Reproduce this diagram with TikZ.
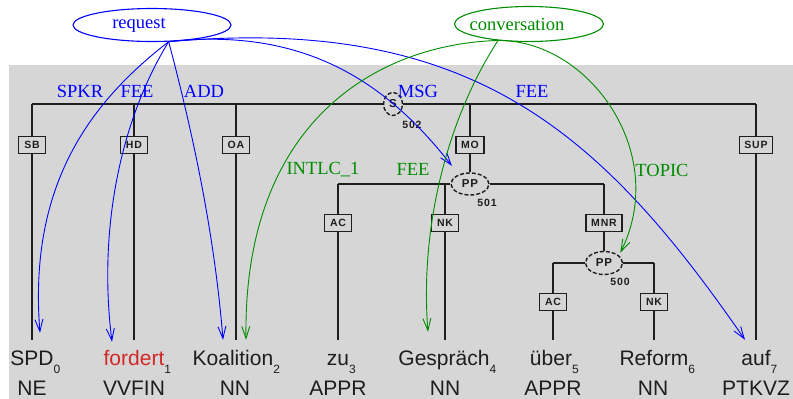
\documentclass[tikz,border=0pt]{standalone}
\usepackage{fontspec}
\setmainfont{Liberation Serif}
\newfontfamily\wordfont{Liberation Sans}
\newfontfamily\edgefont[LetterSpace=8]{Liberation Sans}
\usetikzlibrary{shapes.geometric,arrows.meta}

\definecolor{panel}{RGB}{214,214,214}
\definecolor{feblue}{RGB}{0,0,255}
\definecolor{fegreen}{RGB}{0,140,0}
\definecolor{ink}{RGB}{30,30,30}
\definecolor{target}{RGB}{210,40,40}

% token index, set low and to the right of the word
\newcommand\tokidx[1]{\rlap{\raisebox{-8pt}{\fontsize{12}{12}\selectfont #1}}}

\begin{document}
\begin{tikzpicture}[x=1pt,y=-1pt,
  branch/.style={draw=ink,line width=1.7pt},
  edgebox/.style={draw=ink,fill=panel,line width=1.6pt,inner xsep=5pt,inner ysep=0pt,
    minimum width=27pt,minimum height=17pt,text=ink,font=\edgefont\bfseries\fontsize{10.5}{10.5}\selectfont},
  phrase/.style={ellipse,draw=ink,fill=panel,dashed,dash pattern=on 4pt off 2pt,line width=1.4pt,
    inner sep=0pt,text=ink,font=\edgefont\bfseries\fontsize{11.5}{11.5}\selectfont},
  phrasenum/.style={text=ink,inner sep=0pt,font=\edgefont\bfseries\fontsize{10.5}{10.5}\selectfont},
  word/.style={anchor=base,text=ink,inner xsep=0pt,inner ysep=0pt,text height=25pt,
    font=\wordfont\fontsize{21}{21}\selectfont},
  postag/.style={anchor=base,text=ink,inner sep=0pt,font=\wordfont\fontsize{21}{21}\selectfont},
  frame/.style={ellipse,line width=1.1pt,inner sep=0pt,font=\fontsize{18.5}{18.5}\selectfont},
  role/.style={inner sep=0pt,font=\fontsize{18.5}{18.5}\selectfont},
  fe/.style={-{Straight Barb[length=12pt,width=8pt]},line width=0.9pt},
]
\useasboundingbox (0,0) rectangle (793,399);
\fill[panel] (9,65) rectangle (793,399);

% ---------- syntax tree ----------
\node[word] (w0) at (32,365)  {SPD\tokidx{0}};
\node[word] (w1) at (134,365) {\textcolor{target}{fordert}\tokidx{1}};
\node[word] (w2) at (233,365) {Koalition\tokidx{2}};
\node[word] (w3) at (338,365) {zu\tokidx{3}};
\node[word] (w4) at (444,365) {Gespräch\tokidx{4}};
\node[word] (w5) at (551,365) {über\tokidx{5}};
\node[word] (w6) at (654,365) {Reform\tokidx{6}};
\node[word] (w7) at (756,365) {auf\tokidx{7}};

\node[postag] (p0) at (32,395)  {NE};
\node[postag] (p1) at (134,395) {VVFIN};
\node[postag] (p2) at (235,395) {NN};
\node[postag] (p3) at (338,395) {APPR};
\node[postag] (p4) at (445,395) {NN};
\node[postag] (p5) at (553,395) {APPR};
\node[postag] (p6) at (653,395) {NN};
\node[postag] (p7) at (756,395) {PTKVZ};

\node[phrase,minimum width=19pt,minimum height=23pt] (s) at (393,104) {S};
\node[phrasenum] (n502) at (412,125) {502};
\node[phrase,minimum width=38pt,minimum height=22pt] (pp501) at (470,184) {PP};
\node[phrasenum] (n501) at (487,203) {501};
\node[phrase,minimum width=37pt,minimum height=23pt] (pp500) at (604,263) {PP};
\node[phrasenum] (n500) at (620,282) {500};

\node[edgebox] (sb)  at (32,145)  {SB};
\node[edgebox] (hd)  at (134,145) {HD};
\node[edgebox] (oa)  at (236,145) {OA};
\node[edgebox] (mo)  at (470,145) {MO};
\node[edgebox] (sup) at (756,145) {SUP};
\node[edgebox] (ac1) at (338,223) {AC};
\node[edgebox] (nk1) at (445,223) {NK};
\node[edgebox] (mnr) at (604,223) {MNR};
\node[edgebox] (ac2) at (553,302) {AC};
\node[edgebox] (nk2) at (654,302) {NK};

% S 502
\draw[branch] (sb |- s) -- (s.west);
\draw[branch] (s.east) -- (sup |- s);
\draw[branch] (sb |- s) -- (sb) -- (sb |- w0.north);
\draw[branch] (hd |- s) -- (hd) -- (hd |- w1.north);
\draw[branch] (oa |- s) -- (oa) -- (oa |- w2.north);
\draw[branch] (mo |- s) -- (mo) -- (pp501);
\draw[branch] (sup |- s) -- (sup) -- (sup |- w7.north);
% PP 501
\draw[branch] (ac1 |- pp501) -- (pp501.west);
\draw[branch] (pp501.east) -- (mnr |- pp501);
\draw[branch] (ac1 |- pp501) -- (ac1) -- (ac1 |- w3.north);
\draw[branch] (nk1 |- pp501) -- (nk1) -- (nk1 |- w4.north);
\draw[branch] (mnr |- pp501) -- (mnr) -- (pp500);
% PP 500
\draw[branch] (ac2 |- pp500) -- (pp500.west);
\draw[branch] (pp500.east) -- (nk2 |- pp500);
\draw[branch] (ac2 |- pp500) -- (ac2) -- (ac2 |- w5.north);
\draw[branch] (nk2 |- pp500) -- (nk2) -- (nk2 |- w6.north);

% ---------- frames ----------
\node[frame,draw=feblue,text=feblue,minimum width=158pt,minimum height=33pt] (request) at (152,25)
  {\makebox[0pt]{request\hspace{26pt}}};
\node[frame,draw=fegreen,text=fegreen,minimum width=149pt,minimum height=35pt] (conv) at (529,24)
  {\makebox[0pt]{conversation\hspace{24pt}}};

% request frame elements
\draw[fe,feblue] (request.-45) .. controls (92,101) and (28,183) .. ([xshift=8pt,yshift=7pt]w0.north);
\draw[fe,feblue] (request.-45) .. controls (120,121) and (98,230) .. ([xshift=-22pt,yshift=-2pt]w1.north);
\draw[fe,feblue] (request.-45) .. controls (195,141) and (215,240) .. ([xshift=-10pt]w2.north);
\draw[fe,feblue] (request.-45) .. controls (302,27) and (385,80) .. ([xshift=-8pt,yshift=8pt]pp501.135);
\draw[fe,feblue] (request.-45) .. controls (470,15) and (600,130) .. ([xshift=-11pt]w7.north);

\node[role,text=feblue] (l-spkr) at (80,91)  {SPKR};
\node[role,text=feblue] (l-fee1) at (137,91) {FEE};
\node[role,text=feblue] (l-add)  at (204,91) {ADD};
\node[role,text=feblue] (l-msg)  at (418,91) {MSG};
\node[role,text=feblue] (l-fee2) at (532,91) {FEE};

% conversation frame elements
\draw[fe,fegreen] (conv.-152) .. controls (379,44) and (243,120) .. ([xshift=13pt]w2.north);
\draw[fe,fegreen] (conv.-152) .. controls (445,122) and (420,232) .. ([xshift=-16pt,yshift=8pt]w4.north);
\draw[fe,fegreen] (conv.-152) .. controls (589,40) and (670,153) .. ([xshift=6pt]pp500.45);

\node[role,text=fegreen] (l-intlc) at (323,170) {INTLC\_1};
\node[role,text=fegreen] (l-fee3)  at (413,169) {FEE};
\node[role,text=fegreen] (l-topic) at (662,170) {TOPIC};
\end{tikzpicture}
\end{document}
